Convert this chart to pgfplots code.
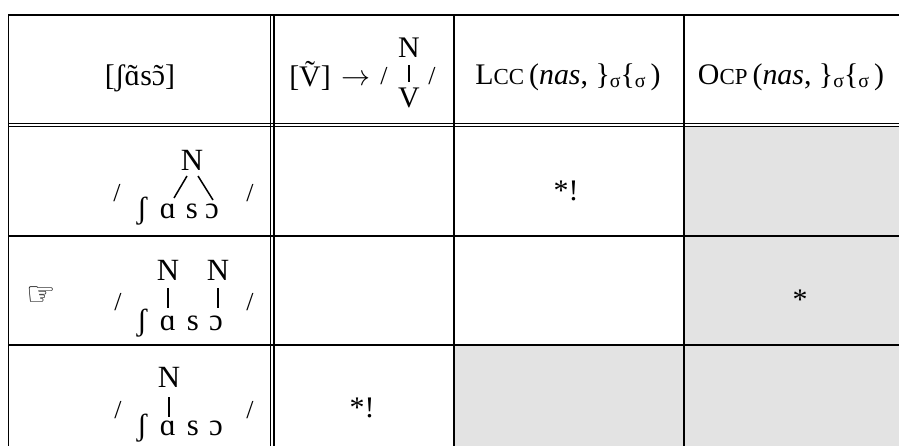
\documentclass[border=0pt]{standalone}
\usepackage{fontspec}
\setmainfont{Liberation Serif}
\newfontfamily\handfont{DejaVu Sans}
\usepackage{pgfplots}
\pgfplotsset{compat=1.18}
\definecolor{cellgrey}{RGB}{227,227,227}

\newcommand{\hd}{\fontsize{30}{33}\selectfont}
\newcommand{\cand}{\fontsize{31}{34}\selectfont}
\newcommand{\slsize}{\fontsize{26}{28}\selectfont}
\newcommand{\smc}[1]{{\fontsize{23}{25}\selectfont #1}}
\newcommand{\sig}{\raisebox{-3bp}{\fontsize{20}{22}\selectfont σ}}
\newcommand{\cons}{(\textit{nas},\ \}\sig\{\sig\,)}
\newcommand{\til}[1]{\accent"02DC #1}

\begin{document}
\begin{tikzpicture}
\begin{axis}[
  width=899bp, height=446bp, scale only axis,
  xmin=0, xmax=899, ymin=0, ymax=446, y dir=reverse,
  hide axis, clip=false,
  rule/.style={black, line width=1.8bp},
  dbl/.style={black, line width=1.4bp},
  stem/.style={black, line width=1.5bp},
]
% shaded cells
\addplot[fill=cellgrey, draw=none] coordinates {(684,126.5) (899,126.5) (899,345) (684,345)};
\addplot[fill=cellgrey, draw=none] coordinates {(454,345) (899,345) (899,446) (454,446)};

% grid
\addplot[rule, line cap=rect] coordinates {(8.5,15) (899,15)};
\addplot[rule] coordinates {(8.5,235.7) (899,235.7)};
\addplot[rule] coordinates {(8.5,345) (899,345)};
\addplot[dbl] coordinates {(8.5,123.4) (899,123.4)};
\addplot[dbl] coordinates {(8.5,126.6) (899,126.6)};
\addplot[rule, line cap=rect] coordinates {(8.5,15) (8.5,446)};
\addplot[dbl] coordinates {(270.6,15) (270.6,446)};
\addplot[dbl] coordinates {(273.8,15) (273.8,446)};
\addplot[rule] coordinates {(454,15) (454,446)};
\addplot[rule] coordinates {(684,15) (684,446)};

% header
\node[anchor=base] at (axis cs:140,86) {\hd [ʃ\til{ɑ}s\til{ɔ}]};
\node[anchor=base] at (axis cs:310,87) {\hd [\til{V}]};
\node[anchor=base] at (axis cs:356,86) {\resizebox{29bp}{!}{$\rightarrow$}};
\node[anchor=base] at (axis cs:384,85) {\slsize /};
\node[anchor=base] at (axis cs:409,58) {\hd N};
\addplot[stem] coordinates {(409,65) (409,82)};
\node[anchor=base] at (axis cs:409,108) {\hd V};
\node[anchor=base] at (axis cs:432,85) {\slsize /};
\node[anchor=base] at (axis cs:568,85) {\hd L\smc{CC}\,\cons};
\node[anchor=base] at (axis cs:791,85) {\hd O\smc{CP}\,\cons};

% candidate 1
\node[anchor=base] at (axis cs:117,201) {\slsize /};
\node[anchor=base] at (axis cs:250,201) {\slsize /};
\node[anchor=base] at (axis cs:192,170) {\cand N};
\addplot[stem] coordinates {(187,176) (174,198)};
\addplot[stem] coordinates {(198,176) (213,200)};
\node[anchor=base] at (axis cs:142,218) {\cand ʃ};
\node[anchor=base] at (axis cs:168,218) {\cand ɑ};
\node[anchor=base] at (axis cs:192,218) {\cand s};
\node[anchor=base] at (axis cs:212,218) {\cand ɔ};
\node[anchor=base] at (axis cs:566,200) {\hd *!};

% candidate 2
\node at (axis cs:41,296) {\handfont\bfseries\fontsize{33}{35}\selectfont ☞};
\node[anchor=base] at (axis cs:118,310) {\slsize /};
\node[anchor=base] at (axis cs:250,310) {\slsize /};
\node[anchor=base] at (axis cs:168,280) {\cand N};
\node[anchor=base] at (axis cs:218,280) {\cand N};
\addplot[stem] coordinates {(168,288) (168,308)};
\addplot[stem] coordinates {(218,288) (218,308)};
\node[anchor=base] at (axis cs:142,330) {\cand ʃ};
\node[anchor=base] at (axis cs:168,330) {\cand ɑ};
\node[anchor=base] at (axis cs:193,330) {\cand s};
\node[anchor=base] at (axis cs:216,330) {\cand ɔ};
\node[anchor=base] at (axis cs:800,309) {\hd *};

% candidate 3
\node[anchor=base] at (axis cs:118,418) {\slsize /};
\node[anchor=base] at (axis cs:250,418) {\slsize /};
\node[anchor=base] at (axis cs:169,387) {\cand N};
\addplot[stem] coordinates {(169,397) (169,417)};
\node[anchor=base] at (axis cs:142,435) {\cand ʃ};
\node[anchor=base] at (axis cs:168,435) {\cand ɑ};
\node[anchor=base] at (axis cs:193,435) {\cand s};
\node[anchor=base] at (axis cs:216,435) {\cand ɔ};
\node[anchor=base] at (axis cs:362,417) {\hd *!};
\end{axis}
\pgfresetboundingbox
\path (current axis.south west) rectangle (current axis.north east);
\end{tikzpicture}
\end{document}
